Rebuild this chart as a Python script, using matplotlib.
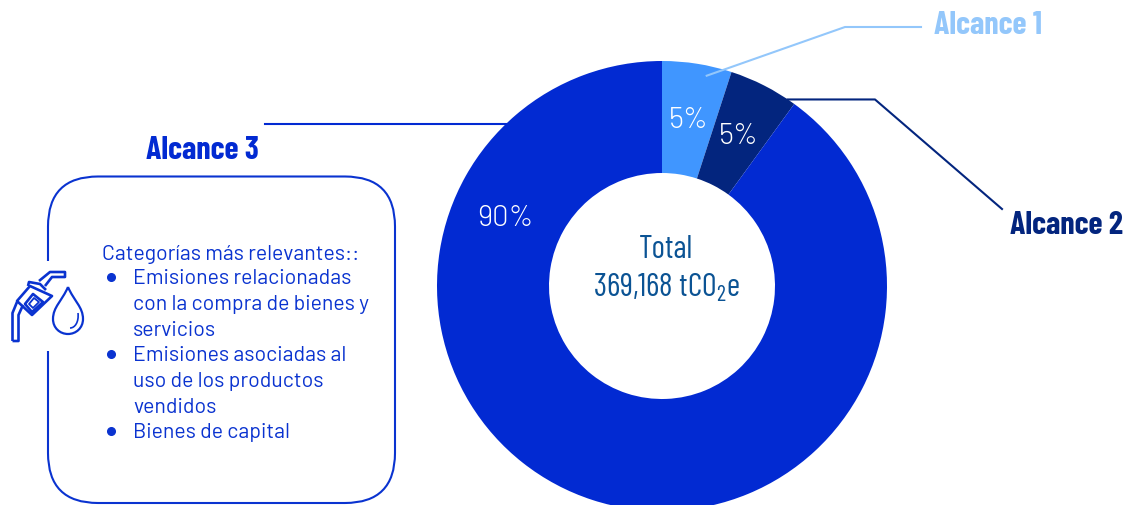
import matplotlib
matplotlib.use("Agg")
import matplotlib.pyplot as plt
import numpy as np
from matplotlib.patches import FancyBboxPatch, PathPatch, Rectangle
from matplotlib.path import Path

plt.rcParams['mathtext.fontset'] = 'custom'
plt.rcParams['mathtext.rm'] = 'Barlow Condensed'

scopes = ["Alcance 1", "Alcance 2", "Alcance 3"]
shares = [5, 5, 90]
share_labels = ["5%", "5%", "90%"]
scope_colors = ["#4096FF", "#03257E", "#022AD2"]
heading_colors = ["#93C7FB", "#03257E", "#022AD2"]

total_lines = ["Total", "369,168 tCO$_2$e"]
box_title = "Categorías más relevantes::"
box_items = [
    ["Emisiones relacionadas", "con la compra de bienes y", "servicios"],
    ["Emisiones asociadas al", "uso de los productos", "vendidos"],
    ["Bienes de capital"],
]

BLUE = "#0A33D0"
BODY = ["Barlow", "Roboto", "DejaVu Sans"]
HEAD = ["Barlow Condensed", "Roboto Condensed", "DejaVu Sans"]

fig = plt.figure(figsize=(11.27, 5.06), dpi=100)
ax = fig.add_axes([0, 0, 1, 1])

# donut, y axis runs downwards so angles grow clockwise from the top
cx, cy, radius = 662, 287, 225
ax.pie(shares, colors=scope_colors, center=(cx, cy), radius=radius, startangle=-90,
       counterclock=True, wedgeprops={"width": radius - 113, "linewidth": 0})
ax.set_xlim(0, 1127)
ax.set_ylim(506, 0)
ax.set_aspect("equal")
ax.axis("off")


def on_ring(angle, r):
    a = np.radians(angle)
    return cx + r * np.sin(a), cy - r * np.cos(a)


# percentage labels, the small slices get theirs at mid-slice
start = 0
for i, share in enumerate(shares):
    sweep = share * 3.6
    if i < 2:
        x, y = on_ring(start + sweep / 2, 169)
    else:
        x, y = 505, 218
    ax.text(x, y, share_labels[i], color="white", fontsize=21, family=BODY,
            fontweight=300, ha="center", va="center")
    start += sweep

# centre text
ax.text(666, 250, total_lines[0], color="#0B5394", fontsize=23, family=HEAD,
        ha="center", va="center")
ax.text(666, 288, total_lines[1], color="#0B5394", fontsize=23, family=HEAD,
        ha="center", va="center")

# leader lines and headings
end1 = on_ring(12, 215)
end2 = on_ring(34, 225)
ax.plot([end1[0], 845, 921], [end1[1], 28, 28], color=heading_colors[0], lw=1.5)
ax.plot([end2[0], 875, 1002], [end2[1], end2[1], 210], color=heading_colors[1], lw=1.5)
ax.plot([265, 506], [125, 125], color=heading_colors[2], lw=1.5)
ax.text(934, 25, scopes[0], color=heading_colors[0], fontsize=23, family=HEAD,
        fontweight="bold", va="center")
ax.text(1010, 225, scopes[1], color=heading_colors[1], fontsize=23, family=HEAD,
        fontweight="bold", va="center")
ax.text(146, 150, scopes[2], color=heading_colors[2], fontsize=23, family=HEAD,
        fontweight="bold", va="center")

# rounded box, opened on the left for the icon
box = FancyBboxPatch((98, 227.5), 247, 226.5, boxstyle="round,pad=50,rounding_size=50",
                     fc="none", ec=BLUE, lw=1.5)
ax.add_patch(box)
ax.add_patch(Rectangle((40, 262), 18, 90, fc="white", ec="none", zorder=2))

# list text
ax.text(102, 254, box_title, color=BLUE, fontsize=15.3, family=BODY, va="center", zorder=3)
y = 279
for item in box_items:
    ax.plot([111], [y - 1], "o", color=BLUE, ms=5.5, zorder=3)
    for line in item:
        ax.text(133, y, line, color=BLUE, fontsize=15.3, family=BODY, va="center", zorder=3)
        y += 25.6


def stroke(points, closed=False, lw=1.9):
    verts = list(points)
    codes = [Path.MOVETO] + [Path.LINETO] * (len(verts) - 1)
    if closed:
        verts.append(verts[0])
        codes.append(Path.CLOSEPOLY)
    ax.add_patch(PathPatch(Path(verts, codes), fc="none", ec=BLUE, lw=lw, zorder=3,
                           joinstyle="round"))


# fuel nozzle icon
stroke([(12.5, 342), (18.5, 342), (18.5, 316), (23, 306)])
stroke([(12.5, 342), (12.5, 314), (17, 303)])
stroke([(17, 302), (30, 287), (52, 297), (32, 316)], closed=True)
stroke([(25, 305), (33, 295), (43, 303), (32, 313)], closed=True)
stroke([(29, 305), (34, 299), (39, 303), (33, 309)], closed=True, lw=1.3)
stroke([(28, 287), (29, 283), (40, 285), (46, 291)])
stroke([(39, 282), (50, 273), (65, 273), (65, 278), (52, 278), (45, 287)])

# droplet icon
drop_verts = [(68, 288), (62, 302), (53, 308), (53, 320), (53, 329), (60, 335), (68, 335),
              (76, 335), (83, 329), (83, 320), (83, 308), (74, 302), (68, 288)]
drop_codes = [Path.MOVETO] + [Path.CURVE4] * 12
ax.add_patch(PathPatch(Path(drop_verts, drop_codes), fc="none", ec=BLUE, lw=1.6, zorder=3))
ax.add_patch(PathPatch(Path([(78, 314), (79, 323), (75, 329), (70, 329)],
                            [Path.MOVETO] + [Path.CURVE4] * 3),
                       fc="none", ec=BLUE, lw=1.2, zorder=3))

fig.savefig("out.png", dpi=100)
